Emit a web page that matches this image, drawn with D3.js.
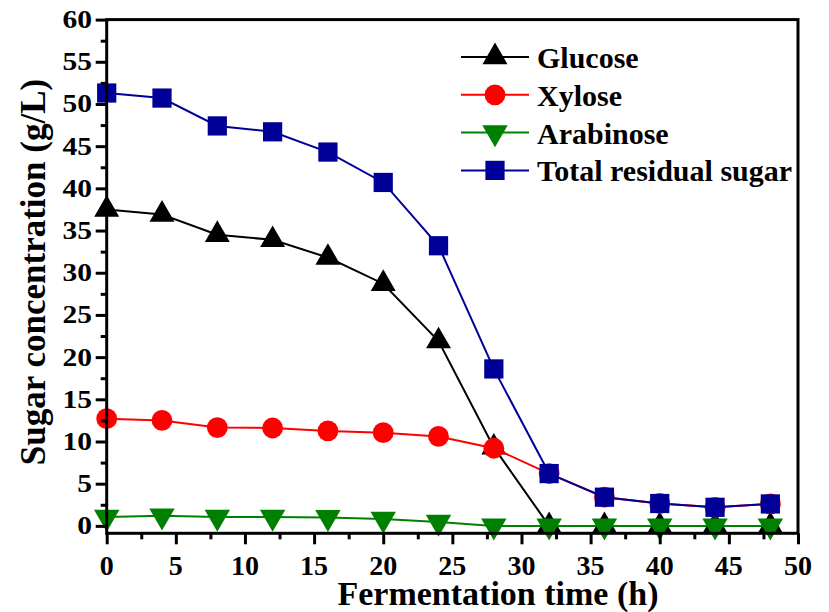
<!DOCTYPE html>
<html>
<head>
<meta charset="utf-8">
<script src="https://cdn.jsdelivr.net/npm/d3@7.9.0/dist/d3.min.js"></script>
<style>
  body { margin: 0; background: #fff; }
  svg text { font-family: "Liberation Serif", "Times New Roman", serif; font-weight: bold; fill: #000; }
</style>
</head>
<body>
<svg id="chart" width="829" height="612"></svg>
<script>
// fermentation time (h)
const hours = [0, 4, 8, 12, 16, 20, 24, 28, 32, 36, 40, 44, 48];
// sugar concentrations (g/L)
const glucose = [37.5, 36.9, 34.5, 33.9, 31.8, 28.7, 21.9, 9.3, 0, 0, 0, 0, 0];
const xylose = [12.7, 12.5, 11.65, 11.6, 11.25, 11.05, 10.6, 9.2, 6.2, 3.4, 2.65, 2.2, 2.6];
const arabinose = [1.05, 1.2, 1.05, 1.05, 1.0, 0.8, 0.45, 0, 0, 0, 0, 0, 0];
const totalSugar = [51.3, 50.7, 47.4, 46.7, 44.3, 40.7, 33.2, 18.6, 6.2, 3.4, 2.65, 2.2, 2.6];
const xTicks = [0, 5, 10, 15, 20, 25, 30, 35, 40, 45, 50];
const yTicks = [0, 5, 10, 15, 20, 25, 30, 35, 40, 45, 50, 55, 60];

const svg = d3.select('#chart');
const x = d3.scaleLinear().domain([0, 50]).range([106.7, 798]);
const y = d3.scaleLinear().domain([-0.88, 60]).range([533.3, 19.6]);

// series, drawn in this order (later ones on top)
const series = [
    { name: 'Glucose', values: glucose, color: '#000000', symbol: d3.symbolTriangle, size: 270, rotate: 0 },
    { name: 'Xylose', values: xylose, color: '#ff0000', symbol: d3.symbolCircle, size: 340, rotate: 0 },
    { name: 'Arabinose', values: arabinose, color: '#008000', symbol: d3.symbolTriangle, size: 280, rotate: 180 },
    { name: 'Total residual sugar', values: totalSugar, color: '#000099', symbol: d3.symbolSquare, size: 370, rotate: 0 },
];

const line = d3.line().x((d) => x(d[0])).y((d) => y(d[1]));

series.forEach((s) => {
    const pts = hours.map((h, i) => [h, s.values[i]]);
    svg.append('path')
        .attr('d', line(pts))
        .attr('fill', 'none')
        .attr('stroke', s.color)
        .attr('stroke-width', 2);
    const sym = d3.symbol().type(s.symbol).size(s.size);
    svg.selectAll(null)
        .data(pts)
        .join('path')
        .attr('d', sym)
        .attr('fill', s.color)
        .attr('transform', (d) => `translate(${x(d[0])},${y(d[1])}) rotate(${s.rotate})`);
});

// axes: d3 draws the ticks, labels are added below
const bottom = y(-0.88);
const left = x(0);
const axes = [
    svg.append('g').attr('transform', `translate(0,${bottom})`)
        .call(d3.axisBottom(x).tickValues(xTicks).tickSize(11).tickSizeOuter(0).tickFormat('')),
    svg.append('g').attr('transform', `translate(0,${bottom})`)
        .call(d3.axisBottom(x).tickValues(xTicks.slice(0, -1).map((t) => t + 2.5)).tickSize(6).tickFormat('')),
    svg.append('g').attr('transform', `translate(${left},0)`)
        .call(d3.axisLeft(y).tickValues(yTicks).tickSize(11).tickSizeOuter(0).tickFormat('')),
    svg.append('g').attr('transform', `translate(${left},0)`)
        .call(d3.axisLeft(y).tickValues(yTicks.slice(0, -1).map((t) => t + 2.5)).tickSize(6).tickFormat('')),
];
axes.forEach((g) => {
    g.select('.domain').remove();
    g.selectAll('line').attr('stroke', '#000').attr('stroke-width', 3);
});

svg.append('g').selectAll('text')
    .data(xTicks)
    .join('text')
    .attr('x', (d) => x(d))
    .attr('y', 575)
    .attr('text-anchor', 'middle')
    .style('font-size', '28px')
    .text((d) => d);

// y labels in the figure are a bit wider than tall
svg.append('g').selectAll('text')
    .data(yTicks)
    .join('text')
    .attr('transform', (d) => `translate(92,${y(d) + 8.5}) scale(1.18,1)`)
    .attr('text-anchor', 'end')
    .style('font-size', '25px')
    .text((d) => d);

// frame
svg.append('rect')
    .attr('x', left)
    .attr('y', y(60))
    .attr('width', x(50) - left)
    .attr('height', bottom - y(60))
    .attr('fill', 'none')
    .attr('stroke', '#000')
    .attr('stroke-width', 3);

// axis titles
svg.append('text')
    .attr('x', 498)
    .attr('y', 605)
    .attr('text-anchor', 'middle')
    .style('font-size', '34px')
    .text('Fermentation time (h)');
svg.append('text')
    .attr('transform', 'translate(45,272) rotate(-90)')
    .attr('text-anchor', 'middle')
    .style('font-size', '35px')
    .text('Sugar concentration (g/L)');

// legend
const legend = svg.append('g');
series.forEach((s, i) => {
    const cy = 57 + i * 37.8;
    legend.append('line')
        .attr('x1', 461).attr('x2', 529)
        .attr('y1', cy).attr('y2', cy)
        .attr('stroke', s.color)
        .attr('stroke-width', 2);
    legend.append('path')
        .attr('d', d3.symbol().type(s.symbol).size(s.size)())
        .attr('fill', s.color)
        .attr('transform', `translate(495,${cy}) rotate(${s.rotate})`);
    legend.append('text')
        .attr('x', 537)
        .attr('y', cy + 11)
        .style('font-size', '30px')
        .text(s.name);
});
</script>
</body>
</html>
